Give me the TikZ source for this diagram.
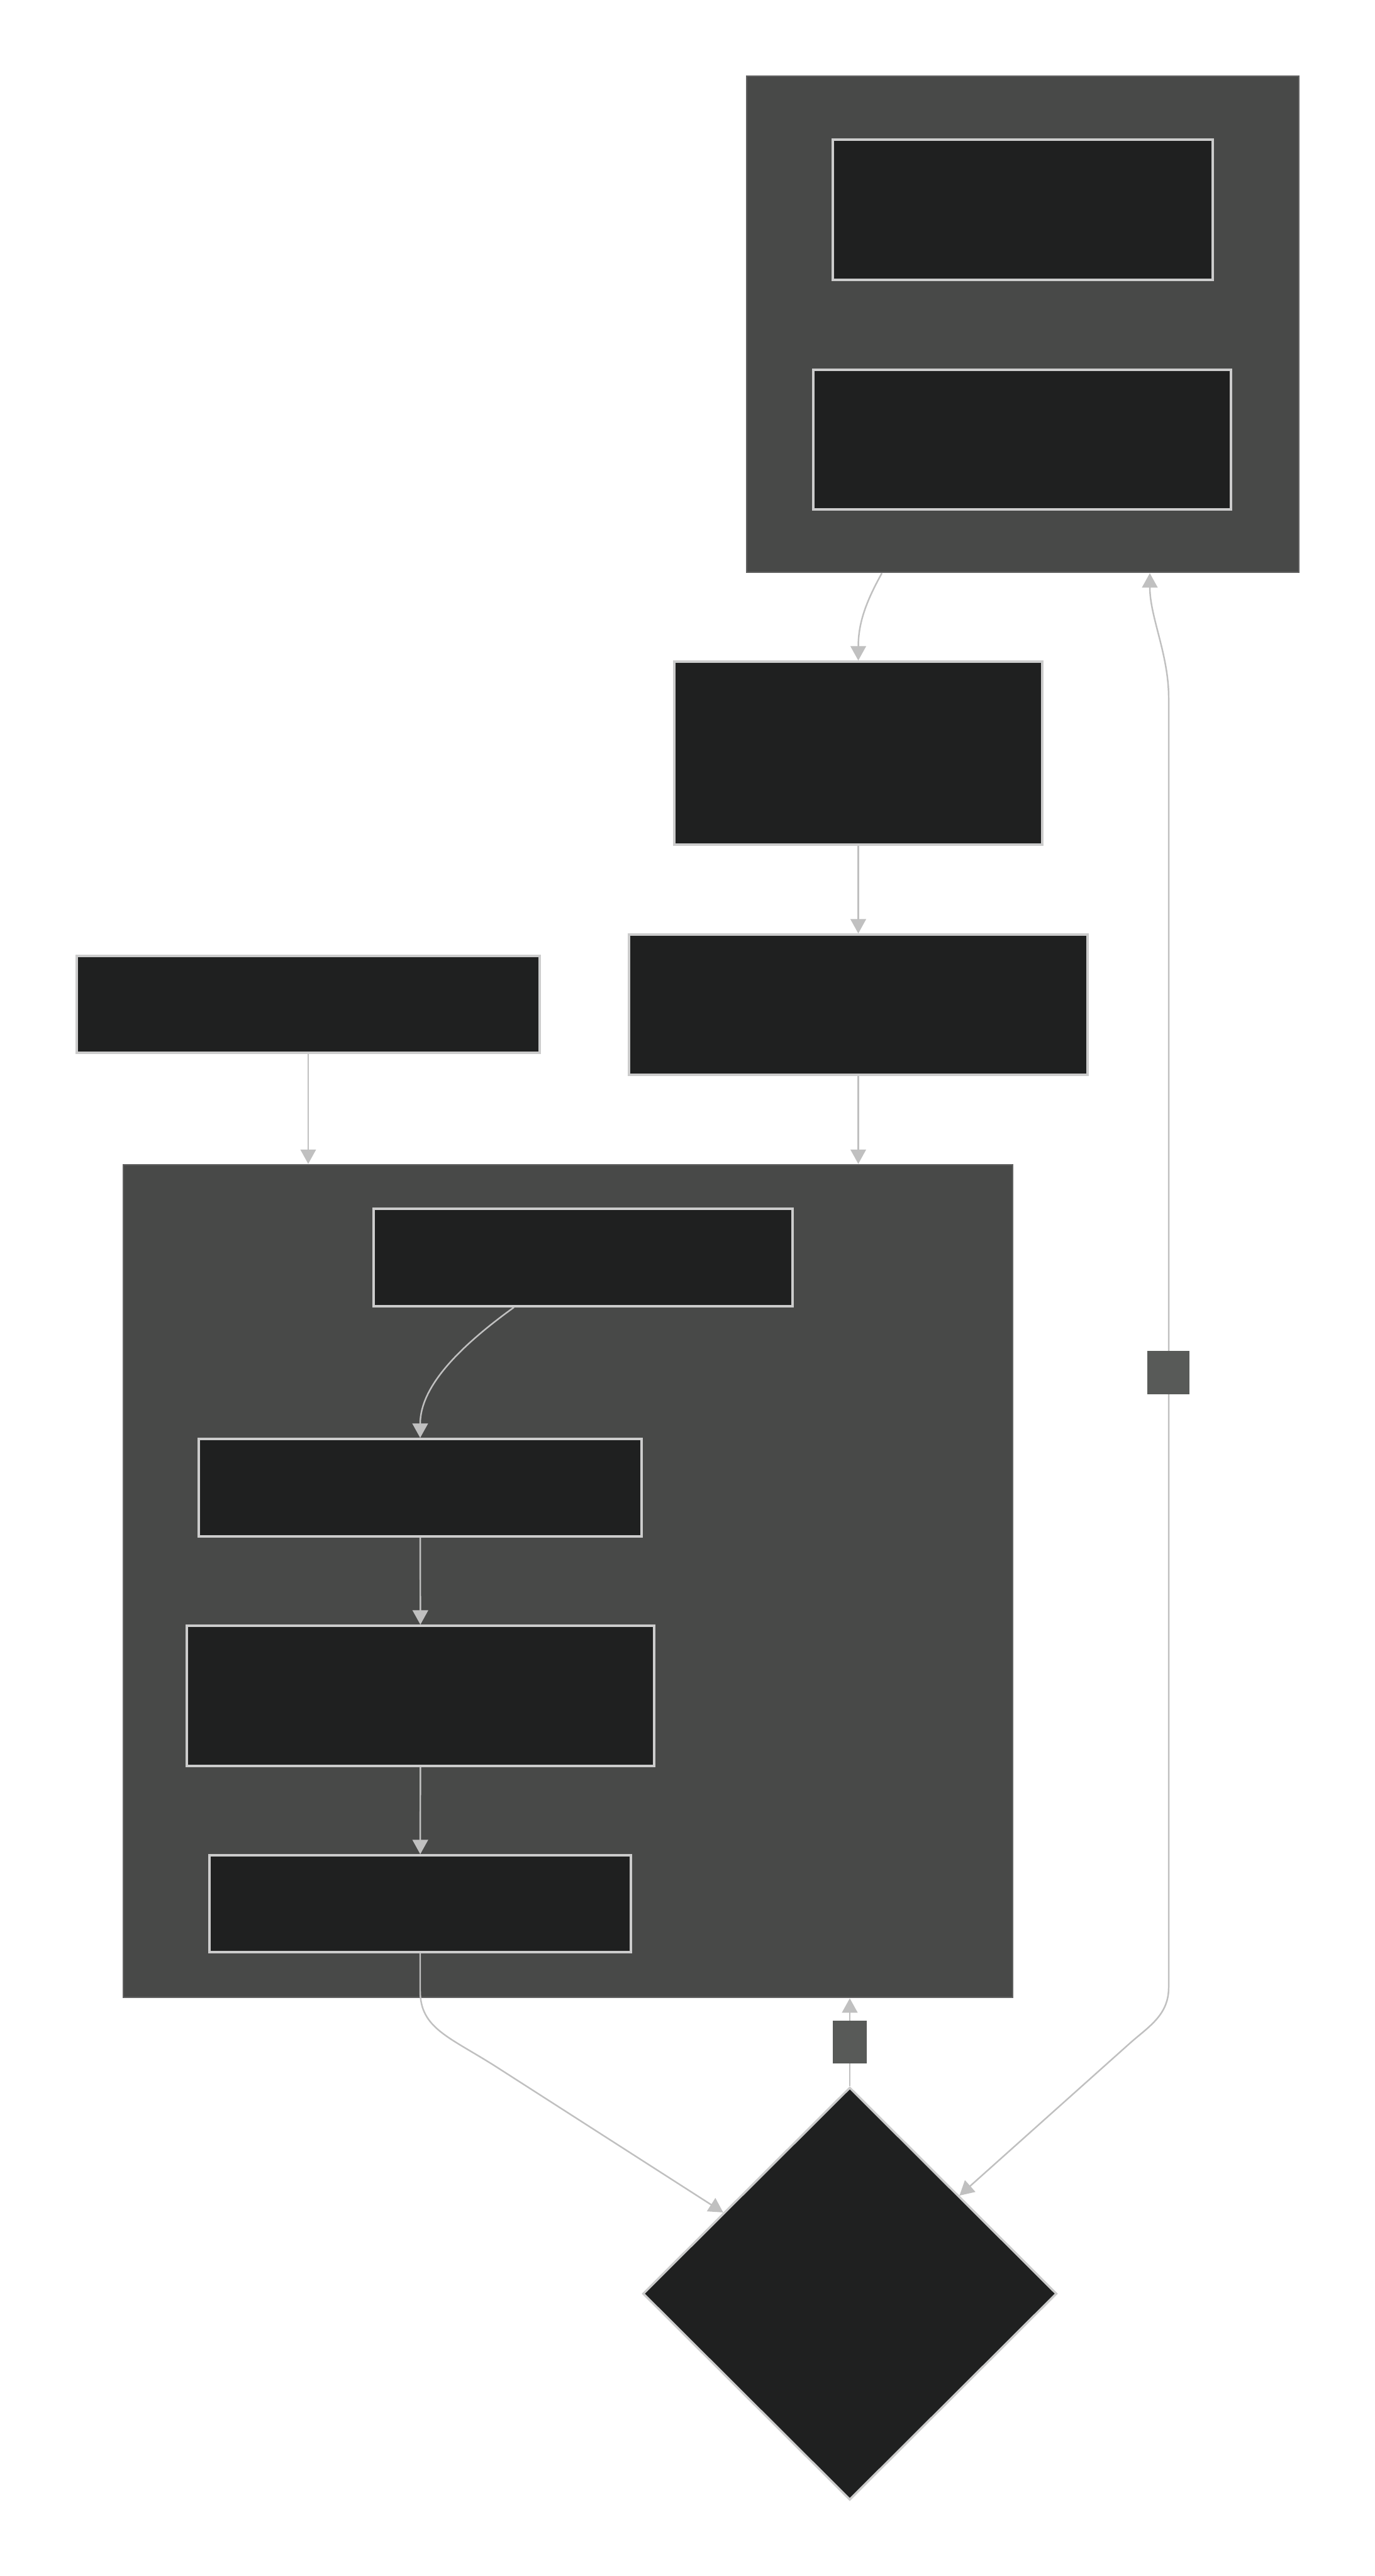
\documentclass[tikz,border=0pt]{standalone}
\usetikzlibrary{arrows.meta,shapes.geometric}
\definecolor{grupofondo}{RGB}{72,73,72}
\definecolor{grupoborde}{RGB}{98,98,98}
\definecolor{cajafondo}{RGB}{31,32,32}
\definecolor{cajaborde}{RGB}{204,204,204}
\definecolor{flecha}{RGB}{192,192,192}
\definecolor{etiqueta}{RGB}{88,90,88}

\begin{document}
\begin{tikzpicture}[>={Triangle[length=6.5pt,width=7pt]},
    grupo/.style={rectangle, draw=grupoborde, fill=grupofondo, line width=0.8pt, inner sep=0pt},
    caja/.style={rectangle, draw=cajaborde, fill=cajafondo, line width=1pt, inner sep=0pt},
    etiq/.style={rectangle, fill=etiqueta, inner sep=0pt},
    arista/.style={->, draw=flecha, line width=0.7pt}]
\useasboundingbox (0,0) rectangle (21.86,-40.96);

% Grupo superior
\node (arriba) [grupo, minimum width=8.78cm, minimum height=7.89cm] at (16.26,-5.155) {};
\node (arriba1) [caja, minimum width=6.04cm, minimum height=2.23cm] at (16.26,-3.335) {};
\node (arriba2) [caja, minimum width=6.64cm, minimum height=2.22cm] at (16.25,-6.99) {};

% Cajas sueltas
\node (paso1) [caja, minimum width=5.85cm, minimum height=2.91cm] at (13.645,-11.975) {};
\node (paso2) [caja, minimum width=7.29cm, minimum height=2.23cm] at (13.645,-15.975) {};
\node (entrada) [caja, minimum width=7.36cm, minimum height=1.54cm] at (4.90,-15.97) {};

% Grupo grande
\node (bloque) [grupo, minimum width=14.14cm, minimum height=13.24cm] at (9.03,-25.14) {};
\node (bloque1) [caja, minimum width=6.66cm, minimum height=1.55cm] at (9.27,-19.995) {};
\node (bloque2) [caja, minimum width=7.04cm, minimum height=1.55cm] at (6.68,-23.655) {};
\node (bloque3) [caja, minimum width=7.43cm, minimum height=2.23cm] at (6.685,-26.965) {};
\node (bloque4) [caja, minimum width=6.70cm, minimum height=1.54cm] at (6.68,-30.27) {};

% Decision
\node (decision) [caja, diamond, aspect=1, minimum width=6.58cm, minimum height=6.56cm] at (13.51,-36.47) {};

% Puntos de curva
\coordinate (curvaG) at (7.9,-32.87);
\coordinate (derA) at (18.58,-11.1);
\coordinate (derB) at (18.58,-31.6);
\coordinate (derC) at (17.95,-32.5);

% Aristas
\draw [arista] ([xshift=-2.24cm]arriba.south) .. controls +(-0.25,-0.45) and +(0,0.6) .. (paso1.north);
\draw [arista] (paso1) -- (paso2);
\draw [arista] (entrada.south) -- (entrada.south |- bloque.north);
\draw [arista] (paso2.south) -- (paso2.south |- bloque.north);
\draw [arista] ([xshift=-1.10cm]bloque1.south) .. controls +(-0.9,-0.65) and +(0,0.8) .. (bloque2.north);
\draw [arista] (bloque2) -- (bloque3);
\draw [arista] (bloque3) -- (bloque4);
\draw [arista] (bloque4.south) -- ++(0,-0.6) .. controls +(0,-0.6) and +(-0.75,0.48) .. (curvaG) -- (decision);
\draw [arista] (decision.north) -- (decision.north |- bloque.south);
\draw [arista, <->] ([xshift=2.02cm]arriba.south) .. controls +(0,-0.7) and +(0,0.7) .. (derA) -- (derB)
    .. controls +(0,-0.45) and +(0.3,0.27) .. (derC) -- (decision);

% Etiquetas vacias sobre las aristas
\node (etiqA) [etiq, minimum width=0.54cm, minimum height=0.68cm] at (13.51,-32.47) {};
\node (etiqB) [etiq, minimum width=0.67cm, minimum height=0.69cm] at (18.575,-21.825) {};
\end{tikzpicture}
\end{document}
